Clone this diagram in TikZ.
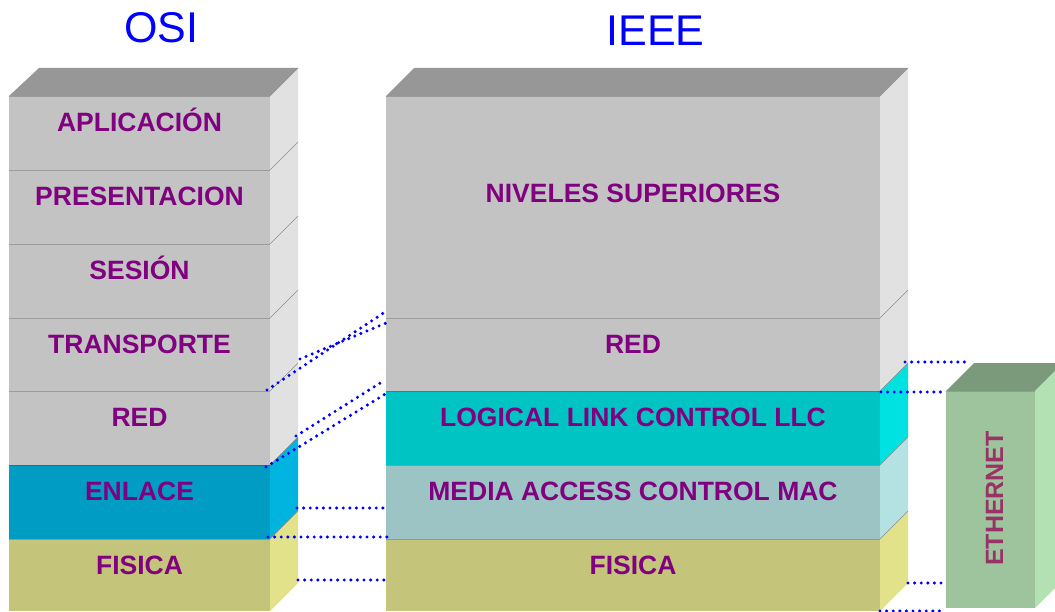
\documentclass[tikz,border=0pt]{standalone}
\usepackage{fontspec}
\setmainfont{Liberation Sans}
\usetikzlibrary{calc}
\usepackage{xcolor}

\definecolor{osifront}{HTML}{C3C3C3}
\definecolor{osiside}{HTML}{E1E1E1}
\definecolor{ositop}{HTML}{979797}
\definecolor{enlacefront}{HTML}{009CC4}
\definecolor{enlaceside}{HTML}{00B4E0}
\definecolor{fisicafront}{HTML}{C4C47A}
\definecolor{fisicaside}{HTML}{E2E28A}
\definecolor{llcfront}{HTML}{00C4C4}
\definecolor{llcside}{HTML}{00E1E1}
\definecolor{macfront}{HTML}{9DC4C4}
\definecolor{macside}{HTML}{B4E1E1}
\definecolor{ethfront}{HTML}{9DC49D}
\definecolor{ethside}{HTML}{B4E1B4}
\definecolor{ethtop}{HTML}{7B9A7B}
\definecolor{labelpurple}{HTML}{800080}
\definecolor{ethlabel}{HTML}{993366}
\definecolor{edgegray}{HTML}{8C8C8C}

\begin{document}
\begin{tikzpicture}[x=1pt,y=-1pt,
	layertext/.style={font=\fontsize{26.5}{30}\selectfont\bfseries, text=labelpurple, inner sep=0pt, anchor=base},
	titletext/.style={font=\fontsize{43}{48}\selectfont, text=blue, inner sep=0pt, anchor=base},
	linkline/.style={blue, line width=3.4pt, line cap=round, dash pattern=on 0pt off 6.6pt}]
				\newcommand{\mylayer}[6]{
					\fill[#5] (#1,#3) rectangle (#2,#4);
					\fill[#6] (#2,#4) -- (#2,#3) -- (#2+28,#3-28) -- (#2+28,#4-28) -- cycle;
					\draw[#5!80!black, line width=1.2pt] (#1,#3+0.6) -- (#2,#3+0.6);
					\draw[edgegray, line width=0.6pt] (#2,#3) -- (#2+28,#3-28);
				}%Page size
				\useasboundingbox (0,0) rectangle (1055,612);
				%Titles
				\node [titletext] (osititle) at (161.5,43) {OSI};
				\node [titletext] (ieeetitle) at (655.5,46) {IEEE};
				%OSI stack, top face
				\fill[ositop] (9,96) -- (39,68) -- (298,68) -- (270,96) -- cycle;
				%OSI gray layers
				\foreach \ytop/\ybot/\lbl/\nm in {96/170/APLICACIÓN/app, 170/244/PRESENTACION/pres, 244/318/SESIÓN/ses, 318/391/TRANSPORTE/trans, 391/465/RED/red} {
					\mylayer{9}{270}{\ytop}{\ybot}{osifront}{osiside}
					\node [layertext] (osi\nm) at (139.5,\ytop+35.5) {\lbl};
				}
				%OSI colored layers
				\mylayer{9}{270}{465}{539}{enlacefront}{enlaceside}
				\node [layertext] (osienl) at (139.5,500.5) {ENLACE};
				\mylayer{9}{270}{539}{611}{fisicafront}{fisicaside}
				\node [layertext] (osifis) at (139.5,574.5) {FISICA};
				%IEEE stack, top face
				\fill[ositop] (386,96) -- (414,68) -- (908,68) -- (880,96) -- cycle;
				\mylayer{386}{880}{96}{318}{osifront}{osiside}
				\node [layertext] (ieeesup) at (633,202.5) {NIVELES SUPERIORES};
				\mylayer{386}{880}{318}{391}{osifront}{osiside}
				\node [layertext] (ieeered) at (633,353.5) {RED};
				\mylayer{386}{880}{391}{465}{llcfront}{llcside}
				\node [layertext] (ieeellc) at (633,426.5) {LOGICAL LINK CONTROL LLC};
				\mylayer{386}{880}{465}{539}{macfront}{macside}
				\node [layertext] (ieeemac) at (633,500.5) {MEDIA ACCESS CONTROL MAC};
				\mylayer{386}{880}{539}{611}{fisicafront}{fisicaside}
				\node [layertext] (ieeefis) at (633,574.5) {FISICA};
				%Ethernet block
				\fill[ethtop] (946,391) -- (974,363) -- (1063,363) -- (1035,391) -- cycle;
				\fill[ethside] (1035,391) -- (1063,363) -- (1063,580) -- (1035,608) -- cycle;
				\fill[ethfront] (946,391) rectangle (1035,608);
				\draw[ethfront!85!black, line width=1pt] (946,391.5) -- (1035,391.5);
				\node [font=\fontsize{25}{30}\selectfont\bfseries, text=ethlabel, inner sep=0pt, rotate=90] (eth) at (994.5,498.5) {ETHERNET};
				%End points of the dotted links
				\coordinate (a1) at (267,390);
				\coordinate (b1) at (385,312);
				\coordinate (a2) at (300,359);
				\coordinate (b2) at (386,323);
				\coordinate (a3) at (296,436);
				\coordinate (b3) at (385,380);
				\coordinate (a4) at (266,467);
				\coordinate (b4) at (387,393);
				\coordinate (a5) at (297,508);
				\coordinate (b5) at (386,508);
				\coordinate (a6) at (268,537);
				\coordinate (b6) at (387,537);
				\coordinate (a7) at (298,580);
				\coordinate (b7) at (387,580);
				\coordinate (c1) at (905,362);
				\coordinate (d1) at (968,362);
				\coordinate (c2) at (881,392);
				\coordinate (d2) at (943,392);
				\coordinate (c3) at (908,583);
				\coordinate (d3) at (943,583);
				\coordinate (c4) at (880,611);
				\coordinate (d4) at (942,611);
				%Dotted links
				\foreach \p/\q in {a1/b1, a2/b2, a3/b3, a4/b4, a5/b5, a6/b6, a7/b7, c1/d1, c2/d2, c3/d3, c4/d4} {
					\draw [linkline] (\p) -- (\q);
				}
\end{tikzpicture}
\end{document}
